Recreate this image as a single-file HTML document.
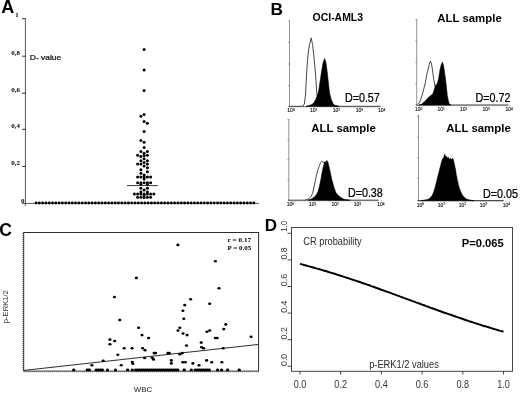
<!DOCTYPE html>
<html><head><meta charset="utf-8"><title>Figure</title>
<style>
html,body{margin:0;padding:0;background:#fff;}
body{width:520px;height:393px;position:relative;overflow:hidden;font-family:"Liberation Sans",sans-serif;}
.s{font-family:"Liberation Sans",sans-serif;}
.f{font-family:"Liberation Serif",serif;}
</style></head><body>
<svg width="520" height="393" viewBox="0 0 520 393" style="position:absolute;left:0;top:0;will-change:transform;transform:translateZ(0)">
<rect width="520" height="393" fill="#fff"/>
<g id="A">
<text x="1.2" y="12.8" font-size="18" font-weight="bold" class="s">A</text>
<path d="M25.4 18.3 V206 M22 203.4 H259" stroke="#3a3a3a" stroke-width="0.85" fill="none"/>
<path d="M22.2 18.7 H25.5" stroke="#2a2a2a" stroke-width="1"/>
<text x="18.8" y="17.2" font-size="6.9" font-weight="bold" text-anchor="end" class="f">1</text>
<path d="M22.2 56.2 H25.5" stroke="#2a2a2a" stroke-width="1"/>
<text x="19.9" y="54.7" font-size="6.9" font-weight="bold" text-anchor="end" class="f">0,8</text>
<path d="M22.2 93.2 H25.5" stroke="#2a2a2a" stroke-width="1"/>
<text x="19.9" y="91.7" font-size="6.9" font-weight="bold" text-anchor="end" class="f">0,6</text>
<path d="M22.2 129.3 H25.5" stroke="#2a2a2a" stroke-width="1"/>
<text x="19.9" y="127.8" font-size="6.9" font-weight="bold" text-anchor="end" class="f">0,4</text>
<path d="M22.2 166.4 H25.5" stroke="#2a2a2a" stroke-width="1"/>
<text x="19.9" y="164.9" font-size="6.9" font-weight="bold" text-anchor="end" class="f">0,2</text>
<text x="24.4" y="203.2" font-size="6.9" font-weight="bold" text-anchor="end" class="f">0</text>
<text transform="translate(29.8 59.5) scale(1.16 1)" font-size="7.3" class="s" fill="#111" stroke="#111" stroke-width="0.22">D- value</text>
<circle cx="36.0" cy="203" r="1.45"/>
<circle cx="39.3" cy="203" r="1.45"/>
<circle cx="42.6" cy="203" r="1.45"/>
<circle cx="45.9" cy="203" r="1.45"/>
<circle cx="49.2" cy="203" r="1.45"/>
<circle cx="52.5" cy="203" r="1.45"/>
<circle cx="55.8" cy="203" r="1.45"/>
<circle cx="59.1" cy="203" r="1.45"/>
<circle cx="62.4" cy="203" r="1.45"/>
<circle cx="65.7" cy="203" r="1.45"/>
<circle cx="69.0" cy="203" r="1.45"/>
<circle cx="72.3" cy="203" r="1.45"/>
<circle cx="75.6" cy="203" r="1.45"/>
<circle cx="78.9" cy="203" r="1.45"/>
<circle cx="82.2" cy="203" r="1.45"/>
<circle cx="85.5" cy="203" r="1.45"/>
<circle cx="88.8" cy="203" r="1.45"/>
<circle cx="92.1" cy="203" r="1.45"/>
<circle cx="95.4" cy="203" r="1.45"/>
<circle cx="98.7" cy="203" r="1.45"/>
<circle cx="102.0" cy="203" r="1.45"/>
<circle cx="105.3" cy="203" r="1.45"/>
<circle cx="108.6" cy="203" r="1.45"/>
<circle cx="111.9" cy="203" r="1.45"/>
<circle cx="115.2" cy="203" r="1.45"/>
<circle cx="118.5" cy="203" r="1.45"/>
<circle cx="121.8" cy="203" r="1.45"/>
<circle cx="125.1" cy="203" r="1.45"/>
<circle cx="128.4" cy="203" r="1.45"/>
<circle cx="131.7" cy="203" r="1.45"/>
<circle cx="135.0" cy="203" r="1.45"/>
<circle cx="138.3" cy="203" r="1.45"/>
<circle cx="141.6" cy="203" r="1.45"/>
<circle cx="144.9" cy="203" r="1.45"/>
<circle cx="148.2" cy="203" r="1.45"/>
<circle cx="151.5" cy="203" r="1.45"/>
<circle cx="154.8" cy="203" r="1.45"/>
<circle cx="158.1" cy="203" r="1.45"/>
<circle cx="161.4" cy="203" r="1.45"/>
<circle cx="164.7" cy="203" r="1.45"/>
<circle cx="168.0" cy="203" r="1.45"/>
<circle cx="171.3" cy="203" r="1.45"/>
<circle cx="174.6" cy="203" r="1.45"/>
<circle cx="177.9" cy="203" r="1.45"/>
<circle cx="181.2" cy="203" r="1.45"/>
<circle cx="184.5" cy="203" r="1.45"/>
<circle cx="187.8" cy="203" r="1.45"/>
<circle cx="191.1" cy="203" r="1.45"/>
<circle cx="194.4" cy="203" r="1.45"/>
<circle cx="197.7" cy="203" r="1.45"/>
<circle cx="201.0" cy="203" r="1.45"/>
<circle cx="204.3" cy="203" r="1.45"/>
<circle cx="207.6" cy="203" r="1.45"/>
<circle cx="210.9" cy="203" r="1.45"/>
<circle cx="214.2" cy="203" r="1.45"/>
<circle cx="217.5" cy="203" r="1.45"/>
<circle cx="220.8" cy="203" r="1.45"/>
<circle cx="224.1" cy="203" r="1.45"/>
<circle cx="227.4" cy="203" r="1.45"/>
<circle cx="230.7" cy="203" r="1.45"/>
<circle cx="234.0" cy="203" r="1.45"/>
<circle cx="237.3" cy="203" r="1.45"/>
<circle cx="240.6" cy="203" r="1.45"/>
<circle cx="243.9" cy="203" r="1.45"/>
<circle cx="247.2" cy="203" r="1.45"/>
<circle cx="250.5" cy="203" r="1.45"/>
<circle cx="253.8" cy="203" r="1.45"/>
<circle cx="144.1" cy="49.6" r="1.5"/>
<circle cx="144.1" cy="70" r="1.5"/>
<circle cx="144.1" cy="90.5" r="1.5"/>
<circle cx="140.9" cy="116.2" r="1.5"/>
<circle cx="144.1" cy="114.6" r="1.5"/>
<circle cx="144.1" cy="121.6" r="1.5"/>
<circle cx="147.4" cy="123.2" r="1.5"/>
<circle cx="144.1" cy="131.4" r="1.5"/>
<circle cx="140.9" cy="140.4" r="1.5"/>
<circle cx="144.1" cy="142.2" r="1.5"/>
<circle cx="144.1" cy="147.6" r="1.5"/>
<circle cx="140.9" cy="151.4" r="1.5"/>
<circle cx="147.4" cy="151.4" r="1.5"/>
<circle cx="144.1" cy="153.2" r="1.5"/>
<circle cx="137.6" cy="155.3" r="1.5"/>
<circle cx="147.4" cy="155.3" r="1.5"/>
<circle cx="140.9" cy="156.5" r="1.5"/>
<circle cx="144.1" cy="155.6" r="1.5"/>
<circle cx="144.1" cy="158.8" r="1.5"/>
<circle cx="140.9" cy="160.7" r="1.5"/>
<circle cx="147.4" cy="160.7" r="1.5"/>
<circle cx="144.1" cy="162.4" r="1.5"/>
<circle cx="137.6" cy="164.1" r="1.5"/>
<circle cx="140.9" cy="164.1" r="1.5"/>
<circle cx="147.4" cy="164.1" r="1.5"/>
<circle cx="144.1" cy="166" r="1.5"/>
<circle cx="147.4" cy="167.8" r="1.5"/>
<circle cx="140.9" cy="169.8" r="1.5"/>
<circle cx="147.4" cy="171.8" r="1.5"/>
<circle cx="140.9" cy="173.3" r="1.5"/>
<circle cx="144.1" cy="175" r="1.5"/>
<circle cx="137.6" cy="177.1" r="1.5"/>
<circle cx="140.9" cy="177.1" r="1.5"/>
<circle cx="144.1" cy="177.1" r="1.5"/>
<circle cx="147.4" cy="177.1" r="1.5"/>
<circle cx="150.6" cy="177.1" r="1.5"/>
<circle cx="144.1" cy="178.9" r="1.5"/>
<circle cx="137.6" cy="182.7" r="1.5"/>
<circle cx="140.9" cy="182.7" r="1.5"/>
<circle cx="144.1" cy="182.7" r="1.5"/>
<circle cx="147.4" cy="182.7" r="1.5"/>
<circle cx="150.6" cy="182.7" r="1.5"/>
<circle cx="140.9" cy="184.4" r="1.5"/>
<circle cx="147.4" cy="184.4" r="1.5"/>
<circle cx="140.9" cy="188.3" r="1.5"/>
<circle cx="147.4" cy="188.3" r="1.5"/>
<circle cx="144.1" cy="189.9" r="1.5"/>
<circle cx="140.9" cy="191.9" r="1.5"/>
<circle cx="147.4" cy="191.9" r="1.5"/>
<circle cx="134.4" cy="193.9" r="1.5"/>
<circle cx="137.6" cy="193.9" r="1.5"/>
<circle cx="140.9" cy="193.9" r="1.5"/>
<circle cx="144.1" cy="193.9" r="1.5"/>
<circle cx="147.4" cy="193.9" r="1.5"/>
<circle cx="150.6" cy="193.9" r="1.5"/>
<circle cx="153.8" cy="193.9" r="1.5"/>
<circle cx="144.1" cy="195.6" r="1.5"/>
<circle cx="137.6" cy="197.3" r="1.5"/>
<circle cx="140.9" cy="197.3" r="1.5"/>
<circle cx="144.1" cy="197.6" r="1.5"/>
<circle cx="147.4" cy="197.3" r="1.5"/>
<circle cx="150.6" cy="197.3" r="1.5"/>
<path d="M127 185.6 H158" stroke="#222" stroke-width="0.9"/>
</g>
<g id="B">
<text transform="translate(270.4 14.5) scale(1.08 1)" font-size="16" font-weight="bold" class="s">B</text>
<path d="M289.5 20.7 V106.3" stroke="#777" stroke-width="0.8" fill="none"/>
<path d="M288.5 106.3 H380.5" stroke="#222" stroke-width="0.9" fill="none"/>
<path d="M289.5 107.1 H380.5" stroke="#555" stroke-width="0.8" stroke-dasharray="0.6 1.4" fill="none"/>
<path d="M288.2 20.9 H289.5" stroke="#666" stroke-width="0.7"/>
<path d="M288.2 42.4 H289.5" stroke="#666" stroke-width="0.7"/>
<path d="M288.2 64.0 H289.5" stroke="#666" stroke-width="0.7"/>
<path d="M288.2 85.6 H289.5" stroke="#666" stroke-width="0.7"/>
<path d="M291.6 106.3 v1.2" stroke="#777" stroke-width="0.6"/>
<text x="291.0" y="112.4" font-size="5" text-anchor="middle" class="s" fill="#111" stroke="#111" stroke-width="0.12">10<tspan dy="-1.7" font-size="3.2">0</tspan></text>
<path d="M314.2 106.3 v1.2" stroke="#777" stroke-width="0.6"/>
<text x="313.6" y="112.4" font-size="5" text-anchor="middle" class="s" fill="#111" stroke="#111" stroke-width="0.12">10<tspan dy="-1.7" font-size="3.2">1</tspan></text>
<path d="M337.0 106.3 v1.2" stroke="#777" stroke-width="0.6"/>
<text x="336.4" y="112.4" font-size="5" text-anchor="middle" class="s" fill="#111" stroke="#111" stroke-width="0.12">10<tspan dy="-1.7" font-size="3.2">2</tspan></text>
<path d="M360.0 106.3 v1.2" stroke="#777" stroke-width="0.6"/>
<text x="359.4" y="112.4" font-size="5" text-anchor="middle" class="s" fill="#111" stroke="#111" stroke-width="0.12">10<tspan dy="-1.7" font-size="3.2">3</tspan></text>
<path d="M382.2 106.3 v1.2" stroke="#777" stroke-width="0.6"/>
<text x="381.6" y="112.4" font-size="5" text-anchor="middle" class="s" fill="#111" stroke="#111" stroke-width="0.12">10<tspan dy="-1.7" font-size="3.2">4</tspan></text>
<path d="M303.0 106.3 L304.3 104.0 L305.5 95.0 L306.7 72.0 L307.8 57.0 L308.6 50.0 L309.6 44.3 L310.5 41.0 L311.2 37.9 L311.8 41.0 L312.6 44.5 L313.4 52.0 L314.0 58.0 L314.8 66.0 L315.5 74.0 L316.3 86.0 L317.0 95.5 L318.0 102.0 L320.0 106.3" fill="#fff" stroke="#333" stroke-width="0.9" stroke-linejoin="round"/>
<path d="M306.0 106.3 L309.0 105.6 L312.0 104.6 L314.0 102.5 L316.0 99.0 L317.5 95.0 L318.5 92.0 L320.0 82.0 L321.5 72.0 L323.0 63.0 L324.6 58.6 L326.0 63.0 L327.2 72.0 L328.3 82.0 L329.4 92.0 L331.0 99.0 L333.0 103.5 L334.8 105.3 L339.0 106.3 Z" fill="#000" stroke="#000" stroke-width="0.6" stroke-linejoin="round"/>
<text transform="translate(337.8 21.3) scale(0.932 1)" font-size="11.2" font-weight="bold" text-anchor="middle" class="s">OCI-AML3</text>
<text transform="translate(379.8 101.9) scale(0.895 1)" font-size="12" text-anchor="end" class="s" stroke="#000" stroke-width="0.25">D=0.57</text>
<path d="M416.7 19 V105" stroke="#777" stroke-width="0.8" fill="none"/>
<path d="M415.7 105 H508.5" stroke="#222" stroke-width="0.9" fill="none"/>
<path d="M416.7 105.8 H508.5" stroke="#555" stroke-width="0.8" stroke-dasharray="0.6 1.4" fill="none"/>
<path d="M415.4 19.5 H416.7" stroke="#666" stroke-width="0.7"/>
<path d="M415.4 40.8 H416.7" stroke="#666" stroke-width="0.7"/>
<path d="M415.4 62.2 H416.7" stroke="#666" stroke-width="0.7"/>
<path d="M415.4 83.6 H416.7" stroke="#666" stroke-width="0.7"/>
<path d="M419.3 105 v1.2" stroke="#777" stroke-width="0.6"/>
<text x="418.7" y="111.2" font-size="5" text-anchor="middle" class="s" fill="#111" stroke="#111" stroke-width="0.12">10<tspan dy="-1.7" font-size="3.2">0</tspan></text>
<path d="M441.7 105 v1.2" stroke="#777" stroke-width="0.6"/>
<text x="441.1" y="111.2" font-size="5" text-anchor="middle" class="s" fill="#111" stroke="#111" stroke-width="0.12">10<tspan dy="-1.7" font-size="3.2">1</tspan></text>
<path d="M464.2 105 v1.2" stroke="#777" stroke-width="0.6"/>
<text x="463.6" y="111.2" font-size="5" text-anchor="middle" class="s" fill="#111" stroke="#111" stroke-width="0.12">10<tspan dy="-1.7" font-size="3.2">2</tspan></text>
<path d="M486.8 105 v1.2" stroke="#777" stroke-width="0.6"/>
<text x="486.2" y="111.2" font-size="5" text-anchor="middle" class="s" fill="#111" stroke="#111" stroke-width="0.12">10<tspan dy="-1.7" font-size="3.2">3</tspan></text>
<path d="M509.8 105 v1.2" stroke="#777" stroke-width="0.6"/>
<text x="509.2" y="111.2" font-size="5" text-anchor="middle" class="s" fill="#111" stroke="#111" stroke-width="0.12">10<tspan dy="-1.7" font-size="3.2">4</tspan></text>
<path d="M417.5 105.0 L418.6 104.0 L420.5 100.0 L422.5 94.0 L424.0 88.0 L425.3 83.0 L426.3 77.0 L427.0 73.4 L428.0 70.0 L429.2 64.5 L430.4 61.0 L431.5 64.0 L432.5 70.0 L433.5 78.0 L434.8 85.0 L436.0 92.0 L437.0 105.0" fill="#fff" stroke="#333" stroke-width="0.9" stroke-linejoin="round"/>
<path d="M419.0 105.0 L421.5 104.3 L425.3 101.0 L427.5 98.5 L429.1 96.8 L431.0 95.5 L433.0 93.5 L434.5 89.0 L435.8 85.0 L437.3 83.5 L438.7 78.2 L440.0 70.0 L441.3 64.5 L442.5 62.0 L443.6 66.0 L444.5 72.0 L445.4 78.2 L446.4 87.0 L447.3 95.4 L448.3 100.5 L449.2 104.0 L451.0 105.0 Z" fill="#000" stroke="#000" stroke-width="0.6" stroke-linejoin="round"/>
<text transform="translate(469.5 21.8) scale(1.02 1)" font-size="11.2" font-weight="bold" text-anchor="middle" class="s">ALL sample</text>
<text transform="translate(510.5 101.6) scale(0.895 1)" font-size="12" text-anchor="end" class="s" stroke="#000" stroke-width="0.25">D=0.72</text>
<path d="M288.8 119 V200.2" stroke="#777" stroke-width="0.8" fill="none"/>
<path d="M287.8 200.2 H378.5" stroke="#222" stroke-width="0.9" fill="none"/>
<path d="M288.8 201.0 H378.5" stroke="#555" stroke-width="0.8" stroke-dasharray="0.6 1.4" fill="none"/>
<path d="M287.5 119.5 H288.8" stroke="#666" stroke-width="0.7"/>
<path d="M287.5 139.5 H288.8" stroke="#666" stroke-width="0.7"/>
<path d="M287.5 159.6 H288.8" stroke="#666" stroke-width="0.7"/>
<path d="M287.5 180.0 H288.8" stroke="#666" stroke-width="0.7"/>
<path d="M291.0 200.2 v1.2" stroke="#777" stroke-width="0.6"/>
<text x="290.4" y="206.4" font-size="5" text-anchor="middle" class="s" fill="#111" stroke="#111" stroke-width="0.12">10<tspan dy="-1.7" font-size="3.2">0</tspan></text>
<path d="M313.3 200.2 v1.2" stroke="#777" stroke-width="0.6"/>
<text x="312.7" y="206.4" font-size="5" text-anchor="middle" class="s" fill="#111" stroke="#111" stroke-width="0.12">10<tspan dy="-1.7" font-size="3.2">1</tspan></text>
<path d="M335.8 200.2 v1.2" stroke="#777" stroke-width="0.6"/>
<text x="335.2" y="206.4" font-size="5" text-anchor="middle" class="s" fill="#111" stroke="#111" stroke-width="0.12">10<tspan dy="-1.7" font-size="3.2">2</tspan></text>
<path d="M358.0 200.2 v1.2" stroke="#777" stroke-width="0.6"/>
<text x="357.4" y="206.4" font-size="5" text-anchor="middle" class="s" fill="#111" stroke="#111" stroke-width="0.12">10<tspan dy="-1.7" font-size="3.2">3</tspan></text>
<path d="M381.4 200.2 v1.2" stroke="#777" stroke-width="0.6"/>
<text x="380.8" y="206.4" font-size="5" text-anchor="middle" class="s" fill="#111" stroke="#111" stroke-width="0.12">10<tspan dy="-1.7" font-size="3.2">4</tspan></text>
<path d="M305.0 200.2 L307.0 199.5 L309.0 198.8 L311.0 196.5 L312.6 193.4 L314.0 187.0 L315.3 181.0 L316.5 175.0 L318.0 169.4 L319.5 165.5 L320.5 162.5 L321.5 161.4 L323.0 162.0 L325.0 163.0 L327.0 168.0 L328.0 200.2" fill="#fff" stroke="#333" stroke-width="0.9" stroke-linejoin="round"/>
<path d="M308.0 200.2 L311.0 199.3 L314.4 197.0 L316.5 194.5 L318.0 191.7 L319.3 187.0 L320.6 181.0 L322.0 173.0 L323.3 166.7 L324.3 163.0 L325.3 161.5 L326.2 162.5 L326.9 160.5 L327.8 162.0 L328.6 165.0 L329.5 168.5 L330.8 175.0 L332.2 181.0 L334.0 187.5 L335.8 192.5 L338.0 195.3 L340.2 197.0 L342.5 198.6 L344.7 199.5 L350.0 200.2 Z" fill="#000" stroke="#000" stroke-width="0.6" stroke-linejoin="round"/>
<text transform="translate(343.5 132) scale(1.02 1)" font-size="11.2" font-weight="bold" text-anchor="middle" class="s">ALL sample</text>
<text transform="translate(382.8 197) scale(0.895 1)" font-size="12" text-anchor="end" class="s" stroke="#000" stroke-width="0.25">D=0.38</text>
<path d="M418.5 114.6 V200.6" stroke="#777" stroke-width="0.8" fill="none"/>
<path d="M417.5 200.6 H503.6" stroke="#222" stroke-width="0.9" fill="none"/>
<path d="M418.5 201.4 H503.6" stroke="#555" stroke-width="0.8" stroke-dasharray="0.6 1.4" fill="none"/>
<path d="M417.2 116.8 H418.5" stroke="#666" stroke-width="0.7"/>
<path d="M417.2 137.3 H418.5" stroke="#666" stroke-width="0.7"/>
<path d="M417.2 157.8 H418.5" stroke="#666" stroke-width="0.7"/>
<path d="M417.2 178.3 H418.5" stroke="#666" stroke-width="0.7"/>
<path d="M420.9 200.6 v1.2" stroke="#777" stroke-width="0.6"/>
<text x="420.3" y="206.8" font-size="5" text-anchor="middle" class="s" fill="#111" stroke="#111" stroke-width="0.12">10<tspan dy="-1.7" font-size="3.2">0</tspan></text>
<path d="M441.9 200.6 v1.2" stroke="#777" stroke-width="0.6"/>
<text x="441.3" y="206.8" font-size="5" text-anchor="middle" class="s" fill="#111" stroke="#111" stroke-width="0.12">10<tspan dy="-1.7" font-size="3.2">1</tspan></text>
<path d="M462.9 200.6 v1.2" stroke="#777" stroke-width="0.6"/>
<text x="462.3" y="206.8" font-size="5" text-anchor="middle" class="s" fill="#111" stroke="#111" stroke-width="0.12">10<tspan dy="-1.7" font-size="3.2">2</tspan></text>
<path d="M483.9 200.6 v1.2" stroke="#777" stroke-width="0.6"/>
<text x="483.3" y="206.8" font-size="5" text-anchor="middle" class="s" fill="#111" stroke="#111" stroke-width="0.12">10<tspan dy="-1.7" font-size="3.2">3</tspan></text>
<path d="M506.9 200.6 v1.2" stroke="#777" stroke-width="0.6"/>
<text x="506.3" y="206.8" font-size="5" text-anchor="middle" class="s" fill="#111" stroke="#111" stroke-width="0.12">10<tspan dy="-1.7" font-size="3.2">4</tspan></text>
<path d="M421.0 200.6 L424.0 200.2 L427.8 199.4 L430.0 198.2 L432.3 195.2 L433.7 192.0 L435.0 188.0 L436.7 181.0 L438.5 173.8 L440.0 168.0 L441.2 163.2 L442.5 159.0 L443.7 157.5 L444.7 154.3 L445.7 157.0 L446.8 156.5 L447.6 158.5 L448.3 157.2 L449.3 159.3 L450.5 158.2 L451.6 159.5 L452.8 158.3 L453.7 161.0 L454.5 165.0 L455.6 170.0 L456.7 175.6 L457.8 181.0 L459.0 186.3 L460.7 191.0 L462.5 195.2 L464.7 197.8 L467.0 199.3 L470.0 200.1 L474.0 200.6 Z" fill="#000" stroke="#000" stroke-width="0.6" stroke-linejoin="round"/>
<text transform="translate(478.5 132) scale(1.02 1)" font-size="11.2" font-weight="bold" text-anchor="middle" class="s">ALL sample</text>
<text transform="translate(518 197.6) scale(0.895 1)" font-size="12" text-anchor="end" class="s" stroke="#000" stroke-width="0.25">D=0.05</text>
<path d="M456.5 172 L458 181 L460.3 189.5 L462.5 194" stroke="#fff" stroke-width="0.5" fill="none"/>
</g>
<g id="C">
<text x="-0.8" y="235.9" font-size="17.6" font-weight="bold" class="s">C</text>
<rect x="23.7" y="232.5" width="234.9" height="138.6" fill="none" stroke="#222" stroke-width="0.95"/>
<path d="M22.9 233 V371" stroke="#333" stroke-width="0.9" stroke-dasharray="0.8 1.2" fill="none"/>
<path d="M24 371.9 H258.7" stroke="#666" stroke-width="0.9" stroke-dasharray="0.8 1.2" fill="none"/>
<path d="M24 370.4 L258.7 344.4" stroke="#222" stroke-width="0.95"/>
<ellipse cx="177.9" cy="244.9" rx="1.6" ry="1.3"/>
<ellipse cx="215.4" cy="261.3" rx="1.6" ry="1.3"/>
<ellipse cx="136.4" cy="277.9" rx="1.6" ry="1.3"/>
<ellipse cx="219.0" cy="288.3" rx="1.6" ry="1.3"/>
<ellipse cx="114.4" cy="297.0" rx="1.6" ry="1.3"/>
<ellipse cx="190.6" cy="299.3" rx="1.6" ry="1.3"/>
<ellipse cx="184.7" cy="305.1" rx="1.6" ry="1.3"/>
<ellipse cx="209.7" cy="303.7" rx="1.6" ry="1.3"/>
<ellipse cx="182.9" cy="310.8" rx="1.6" ry="1.3"/>
<ellipse cx="119.8" cy="320.0" rx="1.6" ry="1.3"/>
<ellipse cx="138.6" cy="327.7" rx="1.6" ry="1.3"/>
<ellipse cx="142.0" cy="335.1" rx="1.6" ry="1.3"/>
<ellipse cx="148.6" cy="338.0" rx="1.6" ry="1.3"/>
<ellipse cx="109.9" cy="339.6" rx="1.6" ry="1.3"/>
<ellipse cx="114.7" cy="341.0" rx="1.6" ry="1.3"/>
<ellipse cx="109.9" cy="344.2" rx="1.6" ry="1.3"/>
<ellipse cx="124.2" cy="348.3" rx="1.6" ry="1.3"/>
<ellipse cx="132.1" cy="348.3" rx="1.6" ry="1.3"/>
<ellipse cx="142.6" cy="348.3" rx="1.6" ry="1.3"/>
<ellipse cx="145.0" cy="350.3" rx="1.6" ry="1.3"/>
<ellipse cx="154.1" cy="353.1" rx="1.6" ry="1.3"/>
<ellipse cx="155.5" cy="353.1" rx="1.6" ry="1.3"/>
<ellipse cx="117.8" cy="354.7" rx="1.6" ry="1.3"/>
<ellipse cx="144.6" cy="358.0" rx="1.6" ry="1.3"/>
<ellipse cx="152.1" cy="357.8" rx="1.6" ry="1.3"/>
<ellipse cx="153.5" cy="359.4" rx="1.6" ry="1.3"/>
<ellipse cx="103.2" cy="360.8" rx="1.6" ry="1.3"/>
<ellipse cx="132.3" cy="362.0" rx="1.6" ry="1.3"/>
<ellipse cx="132.9" cy="363.8" rx="1.6" ry="1.3"/>
<ellipse cx="91.9" cy="365.2" rx="1.6" ry="1.3"/>
<ellipse cx="121.2" cy="365.2" rx="1.6" ry="1.3"/>
<ellipse cx="183.8" cy="318.8" rx="1.6" ry="1.3"/>
<ellipse cx="225.8" cy="324.4" rx="1.6" ry="1.3"/>
<ellipse cx="179.8" cy="327.7" rx="1.6" ry="1.3"/>
<ellipse cx="223.8" cy="329.1" rx="1.6" ry="1.3"/>
<ellipse cx="178.0" cy="330.5" rx="1.6" ry="1.3"/>
<ellipse cx="209.7" cy="330.5" rx="1.6" ry="1.3"/>
<ellipse cx="207.0" cy="331.7" rx="1.6" ry="1.3"/>
<ellipse cx="183.0" cy="333.5" rx="1.6" ry="1.3"/>
<ellipse cx="187.1" cy="335.1" rx="1.6" ry="1.3"/>
<ellipse cx="251.1" cy="336.8" rx="1.6" ry="1.3"/>
<ellipse cx="215.3" cy="338.0" rx="1.6" ry="1.3"/>
<ellipse cx="217.1" cy="338.0" rx="1.6" ry="1.3"/>
<ellipse cx="201.2" cy="342.6" rx="1.6" ry="1.3"/>
<ellipse cx="186.5" cy="345.6" rx="1.6" ry="1.3"/>
<ellipse cx="201.6" cy="347.3" rx="1.6" ry="1.3"/>
<ellipse cx="203.6" cy="348.3" rx="1.6" ry="1.3"/>
<ellipse cx="223.2" cy="348.3" rx="1.6" ry="1.3"/>
<ellipse cx="167.9" cy="353.1" rx="1.6" ry="1.3"/>
<ellipse cx="169.3" cy="353.1" rx="1.6" ry="1.3"/>
<ellipse cx="182.4" cy="353.1" rx="1.6" ry="1.3"/>
<ellipse cx="179.8" cy="354.3" rx="1.6" ry="1.3"/>
<ellipse cx="171.3" cy="360.4" rx="1.6" ry="1.3"/>
<ellipse cx="171.3" cy="363.4" rx="1.6" ry="1.3"/>
<ellipse cx="206.6" cy="360.4" rx="1.6" ry="1.3"/>
<ellipse cx="182.8" cy="362.2" rx="1.6" ry="1.3"/>
<ellipse cx="185.4" cy="362.2" rx="1.6" ry="1.3"/>
<ellipse cx="211.7" cy="362.2" rx="1.6" ry="1.3"/>
<ellipse cx="221.8" cy="362.2" rx="1.6" ry="1.3"/>
<ellipse cx="192.9" cy="363.4" rx="1.6" ry="1.3"/>
<ellipse cx="199.0" cy="365.2" rx="1.6" ry="1.3"/>
<path d="M72.2 371.3 V369.6 Q72.3 368.4 73.7 368.4 Q75.1 368.4 75.2 369.6 V371.3 Z"/>
<path d="M85.8 371.3 V369.6 Q85.9 368.4 87.3 368.4 Q88.7 368.4 88.8 369.6 V371.3 Z"/>
<path d="M87.8 371.3 V369.6 Q87.9 368.4 89.3 368.4 Q90.7 368.4 90.8 369.6 V371.3 Z"/>
<path d="M94.8 371.3 V369.6 Q94.9 368.4 96.3 368.4 Q97.7 368.4 97.8 369.6 V371.3 Z"/>
<path d="M96.9 371.3 V369.6 Q97.0 368.4 98.4 368.4 Q99.8 368.4 99.9 369.6 V371.3 Z"/>
<path d="M98.9 371.3 V369.6 Q99.0 368.4 100.4 368.4 Q101.8 368.4 101.9 369.6 V371.3 Z"/>
<path d="M100.9 371.3 V369.6 Q101.0 368.4 102.4 368.4 Q103.8 368.4 103.9 369.6 V371.3 Z"/>
<path d="M106.0 371.3 V369.6 Q106.1 368.4 107.5 368.4 Q108.9 368.4 109.0 369.6 V371.3 Z"/>
<path d="M114.0 371.3 V369.6 Q114.1 368.4 115.5 368.4 Q116.9 368.4 117.0 369.6 V371.3 Z"/>
<path d="M126.1 371.3 V369.6 Q126.2 368.4 127.6 368.4 Q129.0 368.4 129.1 369.6 V371.3 Z"/>
<path d="M130.8 371.3 V369.6 Q130.9 368.4 132.3 368.4 Q133.7 368.4 133.8 369.6 V371.3 Z"/>
<path d="M182.7 371.3 V369.6 Q182.8 368.4 184.2 368.4 Q185.6 368.4 185.7 369.6 V371.3 Z"/>
<path d="M189.8 371.3 V369.6 Q189.9 368.4 191.3 368.4 Q192.7 368.4 192.8 369.6 V371.3 Z"/>
<path d="M216.1 371.3 V369.6 Q216.2 368.4 217.6 368.4 Q219.0 368.4 219.1 369.6 V371.3 Z"/>
<path d="M220.1 371.3 V369.6 Q220.2 368.4 221.6 368.4 Q223.0 368.4 223.1 369.6 V371.3 Z"/>
<path d="M226.1 371.3 V369.6 Q226.2 368.4 227.6 368.4 Q229.0 368.4 229.1 369.6 V371.3 Z"/>
<path d="M237.7 371.3 V369.6 Q237.8 368.4 239.2 368.4 Q240.6 368.4 240.7 369.6 V371.3 Z"/>
<path d="M134.2 371.3 V369.6 Q134.3 368.4 135.7 368.4 Q137.1 368.4 137.2 369.6 V371.3 Z"/>
<path d="M136.2 371.3 V369.6 Q136.3 368.4 137.7 368.4 Q139.1 368.4 139.2 369.6 V371.3 Z"/>
<path d="M138.2 371.3 V369.6 Q138.3 368.4 139.7 368.4 Q141.1 368.4 141.2 369.6 V371.3 Z"/>
<path d="M140.2 371.3 V369.6 Q140.3 368.4 141.7 368.4 Q143.1 368.4 143.2 369.6 V371.3 Z"/>
<path d="M142.2 371.3 V369.6 Q142.3 368.4 143.7 368.4 Q145.1 368.4 145.2 369.6 V371.3 Z"/>
<path d="M144.2 371.3 V369.6 Q144.3 368.4 145.7 368.4 Q147.1 368.4 147.2 369.6 V371.3 Z"/>
<path d="M146.2 371.3 V369.6 Q146.3 368.4 147.7 368.4 Q149.1 368.4 149.2 369.6 V371.3 Z"/>
<path d="M148.2 371.3 V369.6 Q148.3 368.4 149.7 368.4 Q151.1 368.4 151.2 369.6 V371.3 Z"/>
<path d="M150.2 371.3 V369.6 Q150.3 368.4 151.7 368.4 Q153.1 368.4 153.2 369.6 V371.3 Z"/>
<path d="M152.2 371.3 V369.6 Q152.3 368.4 153.7 368.4 Q155.1 368.4 155.2 369.6 V371.3 Z"/>
<path d="M154.2 371.3 V369.6 Q154.3 368.4 155.7 368.4 Q157.1 368.4 157.2 369.6 V371.3 Z"/>
<path d="M156.2 371.3 V369.6 Q156.3 368.4 157.7 368.4 Q159.1 368.4 159.2 369.6 V371.3 Z"/>
<path d="M158.2 371.3 V369.6 Q158.3 368.4 159.7 368.4 Q161.1 368.4 161.2 369.6 V371.3 Z"/>
<path d="M160.2 371.3 V369.6 Q160.3 368.4 161.7 368.4 Q163.1 368.4 163.2 369.6 V371.3 Z"/>
<path d="M162.2 371.3 V369.6 Q162.3 368.4 163.7 368.4 Q165.1 368.4 165.2 369.6 V371.3 Z"/>
<path d="M164.2 371.3 V369.6 Q164.3 368.4 165.7 368.4 Q167.1 368.4 167.2 369.6 V371.3 Z"/>
<path d="M166.2 371.3 V369.6 Q166.3 368.4 167.7 368.4 Q169.1 368.4 169.2 369.6 V371.3 Z"/>
<path d="M168.2 371.3 V369.6 Q168.3 368.4 169.7 368.4 Q171.1 368.4 171.2 369.6 V371.3 Z"/>
<path d="M170.2 371.3 V369.6 Q170.3 368.4 171.7 368.4 Q173.1 368.4 173.2 369.6 V371.3 Z"/>
<path d="M172.2 371.3 V369.6 Q172.3 368.4 173.7 368.4 Q175.1 368.4 175.2 369.6 V371.3 Z"/>
<path d="M174.2 371.3 V369.6 Q174.3 368.4 175.7 368.4 Q177.1 368.4 177.2 369.6 V371.3 Z"/>
<path d="M176.2 371.3 V369.6 Q176.3 368.4 177.7 368.4 Q179.1 368.4 179.2 369.6 V371.3 Z"/>
<path d="M193.8 371.3 V369.6 Q193.9 368.4 195.3 368.4 Q196.7 368.4 196.8 369.6 V371.3 Z"/>
<path d="M195.8 371.3 V369.6 Q195.9 368.4 197.3 368.4 Q198.7 368.4 198.8 369.6 V371.3 Z"/>
<path d="M197.8 371.3 V369.6 Q197.9 368.4 199.3 368.4 Q200.7 368.4 200.8 369.6 V371.3 Z"/>
<path d="M199.8 371.3 V369.6 Q199.9 368.4 201.3 368.4 Q202.7 368.4 202.8 369.6 V371.3 Z"/>
<path d="M201.8 371.3 V369.6 Q201.9 368.4 203.3 368.4 Q204.7 368.4 204.8 369.6 V371.3 Z"/>
<path d="M203.8 371.3 V369.6 Q203.9 368.4 205.3 368.4 Q206.7 368.4 206.8 369.6 V371.3 Z"/>
<path d="M205.8 371.3 V369.6 Q205.9 368.4 207.3 368.4 Q208.7 368.4 208.8 369.6 V371.3 Z"/>
<path d="M207.8 371.3 V369.6 Q207.9 368.4 209.3 368.4 Q210.7 368.4 210.8 369.6 V371.3 Z"/>
<text x="227.6" y="242.4" font-size="6.3" font-weight="bold" class="f" textLength="23.6" lengthAdjust="spacingAndGlyphs">r = 0.17</text>
<text x="227.6" y="250.4" font-size="6.3" font-weight="bold" class="f" textLength="23.6" lengthAdjust="spacingAndGlyphs">P = 0.05</text>
<text transform="translate(7.8 306.7) rotate(-90) scale(1.07 1)" font-size="7.1" text-anchor="middle" class="s" fill="#333">p-ERK1/2</text>
<text transform="translate(143 391.8) scale(1.14 1)" font-size="7" text-anchor="middle" class="s" fill="#222">WBC</text>
</g>
<g id="D">
<text x="264.8" y="231.3" font-size="17" font-weight="bold" class="s">D</text>
<rect x="291.5" y="227.5" width="221" height="143.8" fill="none" stroke="#333" stroke-width="0.9"/>
<path d="M287.5 233.3 H291.5" stroke="#333" stroke-width="0.9"/>
<text transform="translate(286.8 231.8) rotate(-90) scale(0.9 1.08)" font-size="8.8" text-anchor="start" class="s" fill="#333">1.0</text>
<path d="M287.5 259.9 H291.5" stroke="#333" stroke-width="0.9"/>
<text transform="translate(286.8 259.6) rotate(-90) " font-size="8.8" text-anchor="start" class="s" fill="#333">0.8</text>
<path d="M287.5 286.5 H291.5" stroke="#333" stroke-width="0.9"/>
<text transform="translate(286.8 286.2) rotate(-90) " font-size="8.8" text-anchor="start" class="s" fill="#333">0.6</text>
<path d="M287.5 313.1 H291.5" stroke="#333" stroke-width="0.9"/>
<text transform="translate(286.8 312.8) rotate(-90) " font-size="8.8" text-anchor="start" class="s" fill="#333">0.4</text>
<path d="M287.5 339.7 H291.5" stroke="#333" stroke-width="0.9"/>
<text transform="translate(286.8 339.4) rotate(-90) " font-size="8.8" text-anchor="start" class="s" fill="#333">0.2</text>
<path d="M287.5 366.3 H291.5" stroke="#333" stroke-width="0.9"/>
<text transform="translate(286.8 366.0) rotate(-90) " font-size="8.8" text-anchor="start" class="s" fill="#333">0.0</text>
<path d="M300 371.3 V374.5" stroke="#333" stroke-width="0.9"/>
<text transform="translate(300 388) scale(0.88 1)" font-size="10.4" text-anchor="middle" class="s" fill="#333">0.0</text>
<path d="M340.7 371.3 V374.5" stroke="#333" stroke-width="0.9"/>
<text transform="translate(340.7 388) scale(0.88 1)" font-size="10.4" text-anchor="middle" class="s" fill="#333">0.2</text>
<path d="M381.4 371.3 V374.5" stroke="#333" stroke-width="0.9"/>
<text transform="translate(381.4 388) scale(0.88 1)" font-size="10.4" text-anchor="middle" class="s" fill="#333">0.4</text>
<path d="M422.1 371.3 V374.5" stroke="#333" stroke-width="0.9"/>
<text transform="translate(422.1 388) scale(0.88 1)" font-size="10.4" text-anchor="middle" class="s" fill="#333">0.6</text>
<path d="M462.8 371.3 V374.5" stroke="#333" stroke-width="0.9"/>
<text transform="translate(462.8 388) scale(0.88 1)" font-size="10.4" text-anchor="middle" class="s" fill="#333">0.8</text>
<path d="M503.5 371.3 V374.5" stroke="#333" stroke-width="0.9"/>
<text transform="translate(503.5 388) scale(0.88 1)" font-size="10.4" text-anchor="middle" class="s" fill="#333">1.0</text>
<path d="M300.0 263.9 L302.0 264.4 L304.1 265.0 L306.1 265.5 L308.1 266.1 L310.2 266.6 L312.2 267.2 L314.2 267.8 L316.3 268.4 L318.3 268.9 L320.4 269.5 L322.4 270.1 L324.4 270.7 L326.5 271.3 L328.5 272.0 L330.5 272.6 L332.6 273.2 L334.6 273.8 L336.6 274.5 L338.7 275.1 L340.7 275.8 L342.7 276.4 L344.8 277.1 L346.8 277.7 L348.8 278.4 L350.9 279.1 L352.9 279.8 L354.9 280.4 L357.0 281.1 L359.0 281.8 L361.1 282.5 L363.1 283.2 L365.1 283.9 L367.2 284.6 L369.2 285.3 L371.2 286.1 L373.3 286.8 L375.3 287.5 L377.3 288.2 L379.4 289.0 L381.4 289.7 L383.4 290.4 L385.5 291.2 L387.5 291.9 L389.5 292.6 L391.6 293.4 L393.6 294.1 L395.6 294.9 L397.7 295.6 L399.7 296.4 L401.8 297.1 L403.8 297.9 L405.8 298.6 L407.9 299.4 L409.9 300.1 L411.9 300.9 L414.0 301.6 L416.0 302.4 L418.0 303.1 L420.1 303.8 L422.1 304.6 L424.1 305.3 L426.2 306.1 L428.2 306.8 L430.2 307.6 L432.3 308.3 L434.3 309.0 L436.3 309.8 L438.4 310.5 L440.4 311.2 L442.4 312.0 L444.5 312.7 L446.5 313.4 L448.6 314.1 L450.6 314.8 L452.6 315.5 L454.7 316.2 L456.7 316.9 L458.7 317.6 L460.8 318.3 L462.8 319.0 L464.8 319.7 L466.9 320.4 L468.9 321.1 L470.9 321.7 L473.0 322.4 L475.0 323.1 L477.0 323.7 L479.1 324.4 L481.1 325.0 L483.1 325.7 L485.2 326.3 L487.2 326.9 L489.3 327.5 L491.3 328.1 L493.3 328.8 L495.4 329.4 L497.4 330.0 L499.4 330.6 L501.5 331.1 L503.5 331.7" fill="none" stroke="#000" stroke-width="2" stroke-linejoin="round"/>
<text transform="translate(303.3 245.2) scale(0.93 1)" font-size="10" class="s" fill="#2a2a2a">CR probability</text>
<text x="503.8" y="246.5" font-size="11.2" font-weight="bold" text-anchor="end" class="s">P=0.065</text>
<text transform="translate(404 367.8) scale(0.93 1)" font-size="10" text-anchor="middle" class="s" fill="#2a2a2a">p-ERK1/2 values</text>
</g>
</svg>
</body></html>
